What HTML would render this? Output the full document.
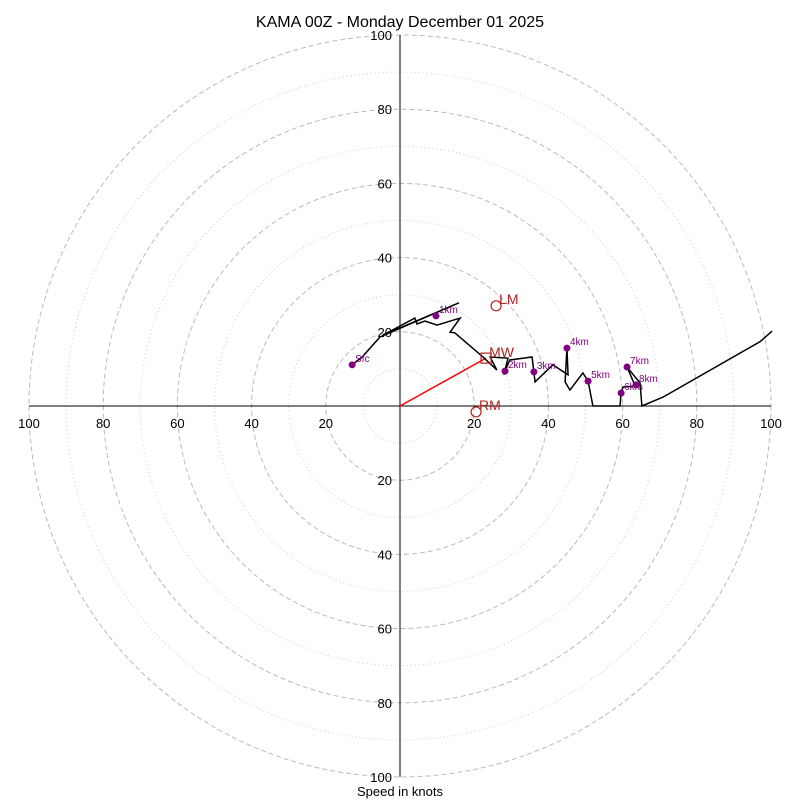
<!DOCTYPE html>
<html><head><meta charset="utf-8"><style>
body{margin:0;background:#fff}
svg text{font-family:"Liberation Sans","DejaVu Sans",sans-serif}
</style></head><body>
<svg id="c" width="800" height="800" xmlns="http://www.w3.org/2000/svg">
<text x="400" y="27" text-anchor="middle" font-size="16">KAMA 00Z - Monday December 01 2025</text>
<text x="400" y="796" text-anchor="middle" font-size="13">Speed in knots</text>
<g id="g"></g>
</svg>
<script>
const ringSpeeds=[10,20,30,40,50,60,70,80,90,100];
const tickLabels=[20,40,60,80,100];
const traceU=[-12.9,-10.2,-5.4,15.9,-4.6,4.0,4.6,6.7,10.0,16.2,13.5,14.8,22.4,26.1,24.3,29.1,28.0,28.3,29.6,35.6,36.4,41.2,45.3,45.0,44.5,45.8,49.3,50.7,52.0,59.3,59.6,60.1,63.4,61.2,64.7,65.2,70.9,97.0,100.3];
const traceV=[11.1,13.2,18.6,27.8,19.1,23.7,22.1,22.9,21.8,23.7,19.9,19.7,13.2,9.7,13.2,12.9,8.4,9.4,12.4,13.2,6.5,11.1,8.4,15.6,6.5,4.3,8.9,6.7,0,0,3.5,5.1,5.4,10.5,6.2,0,2.4,17.3,20.2];
const markerLabels=["Sfc","1km","2km","3km","4km","5km","6km","7km","8km"];
const markerU=[-12.9,9.7,28.3,36.1,45.0,50.7,59.6,61.2,63.6];
const markerV=[11.1,24.3,9.4,9.2,15.6,6.7,3.5,10.5,5.7];
const mwU=23.2, mwV=12.9, lmU=25.9, lmV=27.0, rmU=20.5, rmV=-1.6;

const cx=400,cy=406,k=3.71;
const X=u=>cx+u*k, Y=v=>cy-v*k;
const NS="http://www.w3.org/2000/svg";
const g=document.getElementById('g');
function mk(t,a){const e=document.createElementNS(NS,t);for(const n in a)e.setAttribute(n,a[n]);g.appendChild(e);return e;}
ringSpeeds.forEach(s=>{
  const e=mk('circle',{cx:cx,cy:cy,r:s*k,fill:'none',stroke:s%20===0?'#bbb':'#ccc','stroke-width':1,'stroke-dasharray':s%20===0?'5,3':'1,3'});
  
  
});
let a=mk('line',{x1:X(-100),y1:cy,x2:X(100),y2:cy,stroke:'#000'});


a=mk('line',{x1:cx,y1:Y(100),x2:cx,y2:Y(-100),stroke:'#000'});


tickLabels.forEach(t=>{
  [[X(t),cy+22,'middle'],[X(-t),cy+22,'middle'],[cx-8,Y(t)+5,'end'],[cx-8,Y(-t)+5,'end']].forEach(p=>{
    const e=mk('text',{x:p[0],y:p[1],'text-anchor':p[2],'font-size':13});
    e.textContent=t;
    
    
  });
});
let ar=mk('line',{x1:X(0),y1:Y(0),x2:X(mwU),y2:Y(mwV),stroke:'red','stroke-width':1.5});


let pts=traceU.map((u,i)=>X(u)+','+Y(traceV[i])).join(' ');
let tr=mk('polyline',{points:pts,fill:'none',stroke:'#000','stroke-width':1.5});


markerLabels.forEach((l,i)=>{
  const d=mk('circle',{cx:X(markerU[i]),cy:Y(markerV[i]),r:3.5,fill:'purple'});
  
  
  const t=mk('text',{x:X(markerU[i])+3,y:Y(markerV[i])-3,'font-size':10,fill:'purple'});
  t.textContent=l;
  
  
});
let sq=mk('rect',{x:X(mwU)-5,y:Y(mwV)-5,width:10,height:10,fill:'none',stroke:'#b22222','stroke-width':1.2});


let st=mk('text',{x:X(mwU)+3,y:Y(mwV)-1,'font-size':14,fill:'#b22222'});st.textContent='MW';


[[lmU,lmV,'LM','left-mover'],[rmU,rmV,'RM','right-mover']].forEach(p=>{
  const c=mk('circle',{cx:X(p[0]),cy:Y(p[1]),r:5,fill:'none',stroke:'#b22222','stroke-width':1.2});
  
  
  const t=mk('text',{x:X(p[0])+3,y:Y(p[1])-2,'font-size':14,fill:'#b22222'});t.textContent=p[2];
  
  
});
</script>
</body></html>
